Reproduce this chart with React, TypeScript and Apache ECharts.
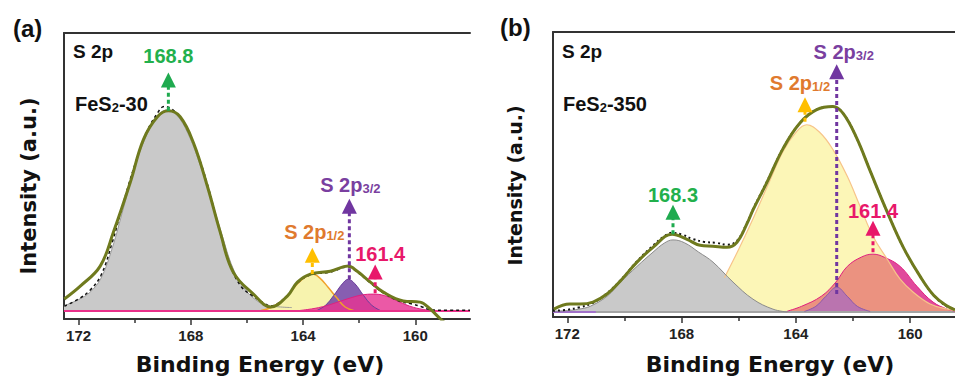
import React, { useEffect, useRef } from 'react';
import * as echarts from 'echarts';

// ---------- axis ticks ----------
const majorTicks = [160, 164, 168, 172];
const minorTicks = [162, 166, 170];

// ---------- Panel (a): FeS2-30 ----------
const envelopeA: number[][] = [
  [172.51, 4.2], [171.94, 8.7], [171.23, 15.7], [170.76, 27.5], [170.16, 44.9], [169.69, 59.9],
  [169.19, 67.9], [168.8, 70.0], [168.38, 67.9], [167.91, 58.9], [167.41, 43.6], [166.95, 27.5],
  [166.49, 13.6], [165.77, 5.9], [165.15, 1.4], [164.56, 5.2], [164.2, 10.1], [163.74, 12.9],
  [163.03, 13.9], [162.39, 15.7], [162.07, 13.9], [161.6, 10.1], [161.14, 6.6], [160.43, 3.5],
  [159.83, 3.1], [159.47, 0.7], [159.1, -2.8], [158.7, -6],
];
const rawA: number[][] = [
  [172.51, 1.7], [172.0, 4.2], [171.6, 7.2], [171.2, 12.5], [170.8, 24], [170.4, 38], [170.0, 51],
  [169.6, 62], [169.2, 69], [168.95, 71.5], [168.6, 70], [168.2, 65], [167.8, 56], [167.4, 44],
  [167.0, 29], [166.6, 16], [166.2, 8.5], [165.8, 5.3], [165.4, 2.8], [165.15, 1.8], [164.6, 5],
  [164.2, 9.8], [163.74, 12.6], [163.03, 13.6], [162.39, 15.4], [162.07, 13.6], [161.6, 9.8],
  [161.14, 6.3], [160.6, 3.6], [160.1, 2.4], [159.8, 1.6], [159.5, 0.5], [159.2, 0.3], [158.05, 0.3],
];
const grayA: number[][] = [
  [172.52, 1.8], [172.0, 4], [171.6, 6.5], [171.2, 11.5], [170.8, 22], [170.4, 36], [170.0, 50],
  [169.6, 61], [169.2, 68], [168.85, 70.3], [168.5, 68.5], [168.1, 62], [167.7, 52], [167.3, 40],
  [166.9, 27], [166.5, 15], [166.1, 8], [165.7, 4], [165.3, 2], [164.8, 1.4], [164.4, 1.2],
];
const yellowA: number[][] = [
  [165.5, 0.2], [165.1, 1.4], [164.6, 4.8], [164.2, 9.5], [163.9, 12], [163.67, 12.9], [163.4, 11.5],
  [163.1, 8.2], [162.8, 4.6], [162.5, 1.4], [162.2, 0.2],
];
const purpleA: number[][] = [
  [163.5, 0.2], [163.2, 2], [162.9, 5.5], [162.6, 9.5], [162.39, 11.1], [162.15, 9.5], [161.85, 5.5],
  [161.55, 2], [161.25, 0.2],
];
const pinkA: number[][] = [
  [164.3, 0], [163.85, 0.5], [163.3, 1.5], [162.8, 3], [162.3, 4.6], [161.9, 5.6], [161.5, 5.9],
  [161.1, 5.4], [160.7, 3.8], [160.2, 1.7], [159.7, 0.5], [159.2, 0],
];
const baselineA: number[][] = [[172.52, 0], [158.05, 0]];
// peak markers: energy, arrow foot, arrow head
const peakEnergyA = [168.8, 163.67, 162.35, 161.43];
const peakFootA = [70.0, 12.9, 11.1, 6.2];
const peakHeadA = [80.8, 19.5, 36.6, 13.6];

// ---------- Panel (b): FeS2-350 ----------
const envelopeB: number[][] = [
  [172.47, 1.0], [171.91, 2.8], [171.56, 2.8], [171.1, 3.5], [170.61, 6.3], [170.15, 10.8],
  [169.56, 17.5], [169.0, 22.7], [168.33, 27.3], [167.81, 25.5], [167.35, 23.4], [166.9, 23.1],
  [166.41, 22.7], [166.06, 24.5], [165.71, 31], [165.49, 36], [165.02, 45.3], [164.44, 57.5],
  [163.85, 66.4], [163.27, 71], [162.7, 72.1], [162.34, 69.6], [161.87, 61], [161.4, 49.5],
  [160.82, 35.5], [160.23, 22.5], [159.65, 12.5], [159.17, 5.8], [158.72, 2.2], [158.43, 0.8],
];
const rawB: number[][] = [
  [172.5, 0.4], [172.0, 0.8], [171.6, 1.6], [171.1, 3.2], [170.61, 6.6], [170.15, 11], [169.56, 17.8],
  [169.0, 23.3], [168.6, 26.6], [168.33, 27.8], [168.0, 27.2], [167.6, 25.6], [167.2, 24.6],
  [166.8, 24.3], [166.41, 23.6], [166.06, 25], [165.71, 31.3], [165.49, 36.3], [165.02, 45.6],
  [164.44, 57.6], [163.85, 66.4], [163.27, 71], [162.7, 72], [162.34, 69.6], [161.87, 61],
  [161.4, 49.5], [160.82, 35.5], [160.23, 22.5], [159.65, 12.5], [159.17, 5.8], [158.72, 2], [158.43, 1.2],
];
const grayB: number[][] = [
  [172.5, 0.3], [172.0, 0.5], [171.6, 1], [171.2, 2], [170.6, 5.6], [170.15, 10.3], [169.56, 16],
  [169.0, 21], [168.6, 24.2], [168.3, 25.3], [167.9, 24.3], [167.4, 21], [166.9, 17.5], [166.2, 10.5],
  [165.5, 4.5], [164.8, 1], [164.3, 0],
];
const yellowB: number[][] = [
  [166.5, 12], [166.4, 14], [166.0, 22], [165.6, 30.5], [165.0, 44], [164.44, 56.5], [163.96, 63.5],
  [163.62, 65.7], [163.16, 63], [162.7, 57], [162.2, 47.6], [161.75, 37], [161.3, 26.6], [160.8, 18.5],
  [160.35, 11.5], [159.9, 7], [159.3, 2.8], [158.7, 1], [158.43, 0.5],
];
const pinkB: number[][] = [
  [164.3, 0.3], [163.8, 2], [163.1, 5.6], [162.6, 10.5], [162.2, 16], [161.7, 19.3], [161.3, 20.3],
  [160.9, 19.2], [160.35, 16], [159.76, 9], [159.2, 3.5], [158.7, 1], [158.43, 0.3],
];
const purpleB: number[][] = [
  [163.7, 0.2], [163.3, 2], [162.95, 5.5], [162.57, 8.7], [162.2, 5.5], [161.85, 2], [161.4, 0.2],
];
const baselineB: number[][] = [[172.5, 0], [158.43, 0]];
const baselineSegB: number[][] = [[172.5, 0], [171.0, 0]];
const peakEnergyB = [168.3, 163.68, 162.57, 161.3];
const peakFootB = [27.3, 66.8, 6.3, 21.0];
const peakHeadB = [35.0, 72.7, 84.3, 29.4];

// peak label texts (same order: oxidised S, S 2p1/2, S 2p3/2, 161.4)
const peakLabelsA = ['{m|168.8}', '{m|S 2p}{s|1/2}', '{m|S 2p}{s|3/2}', '{m|161.4}'];
const peakLabelsB = ['{m|168.3}', '{m|S 2p}{s|1/2}', '{m|S 2p}{s|3/2}', '{m|161.4}'];

const SANS = "'Liberation Sans', Arial, sans-serif";
const TITLE = "'DejaVu Sans', sans-serif";
const OLIVE = '#6f7a1e';
const arrowColors = ['#1faa4f', '#ffbf00', '#7036a0', '#e8186a'];
const textColors = ['#22b04c', '#e07a2e', '#7a3fa0', '#e8186a'];

function xAxes(gridIndex: number, min: number, max: number, nameGap: number, padding: number[]) {
  const common = { type: 'value', gridIndex, min, max, inverse: true, splitLine: { show: false } };
  return [
    {
      ...common, position: 'bottom',
      name: 'Binding Energy (eV)', nameLocation: 'middle', nameGap,
      nameTextStyle: { fontFamily: TITLE, fontWeight: 'bold', fontSize: 22, color: '#111', padding },
      axisLine: { show: true, onZero: false, lineStyle: { color: '#333', width: 2 } },
      axisTick: { show: true, inside: false, length: 6, customValues: majorTicks, lineStyle: { color: '#333', width: 1.5 } },
      axisLabel: { show: true, customValues: majorTicks, margin: 9, fontFamily: SANS, fontWeight: 'bold', fontSize: 15, color: '#222' },
    },
    {
      ...common, position: 'bottom',
      axisLine: { show: false, onZero: false },
      axisTick: { show: true, inside: false, length: 4, customValues: minorTicks, lineStyle: { color: '#333', width: 1.5 } },
      axisLabel: { show: false },
    },
    {
      ...common, position: 'top',
      axisLine: { show: true, onZero: false, lineStyle: { color: '#333', width: 2 } },
      axisTick: { show: false }, axisLabel: { show: false },
    },
  ];
}

function yAxis(gridIndex: number, min: number, max: number, nameGap: number, fontSize: number, padding: number[]) {
  return {
    type: 'value', gridIndex, min, max,
    name: 'Intensity (a.u.)', nameLocation: 'middle', nameGap,
    nameTextStyle: { fontFamily: TITLE, fontWeight: 'bold', fontSize, color: '#111', padding },
    axisLine: { show: true, onZero: false, lineStyle: { color: '#333', width: 2 } },
    axisTick: { show: false }, axisLabel: { show: false }, splitLine: { show: false },
  };
}

function area(xi: number, yi: number, data: number[][], fill: string, edge: string, edgeW = 1) {
  return {
    type: 'line', xAxisIndex: xi, yAxisIndex: yi, data, smooth: 0.4, symbol: 'none', silent: true,
    lineStyle: { color: edge, width: edgeW }, areaStyle: { color: fill, opacity: 1 },
  };
}

function curve(xi: number, yi: number, data: number[][], color: string, width: number, type: any = 'solid') {
  return {
    type: 'line', xAxisIndex: xi, yAxisIndex: yi, data, smooth: 0.4, symbol: 'none', silent: true,
    lineStyle: { color, width, type },
  };
}

function arrow(xi: number, yi: number, e: number, foot: number, head: number, i: number,
  text: string, dist: number, dx: number) {
  const col = arrowColors[i];
  const tc = textColors[i];
  return {
    type: 'line', xAxisIndex: xi, yAxisIndex: yi, silent: true, z: 10,
    symbol: 'triangle', symbolSize: [15, 15], showSymbol: true, showAllSymbol: true,
    lineStyle: { color: col, width: 3, type: [4, 3] },
    itemStyle: { color: col },
    data: [
      { value: [e, foot], symbol: 'none' },
      {
        value: [e, head], symbol: 'triangle',
        label: {
          show: true, position: 'top', distance: dist, offset: [dx, 0], formatter: text,
          rich: {
            m: { fontFamily: SANS, fontWeight: 'bold', fontSize: 20, color: tc },
            s: { fontFamily: SANS, fontWeight: 'bold', fontSize: 13, color: tc, verticalAlign: 'bottom' },
          },
        },
      },
    ],
  };
}

function txt(x: number, y: number, text: string, size: number) {
  return {
    type: 'text', x, y, silent: true,
    style: {
      text, fill: '#111', verticalAlign: 'middle',
      rich: {
        m: { fontFamily: SANS, fontWeight: 'bold', fontSize: size, fill: '#111' },
        s: { fontFamily: SANS, fontWeight: 'bold', fontSize: 13, fill: '#111', verticalAlign: 'bottom' },
      },
    },
  };
}

export default function App() {
  const ref = useRef<HTMLDivElement>(null);
  useEffect(() => {
    if (!ref.current) return;
    const chart = echarts.init(ref.current, undefined, { renderer: 'svg' });
    const distA = [6, 6, 4, 1];
    const dxA = [0, 2, 1, 5];
    const distB = [0, 4, 2, 0];
    const dxB = [0, -5, 7, 0];
    const series: any[] = [
      // panel (a)
      area(0, 0, grayA, '#c9c9c9', '#9a9a9a'),
      area(0, 0, yellowA, '#f7f3ae', '#f0a12a', 1.5),
      area(0, 0, purpleA, 'rgba(118,72,166,0.88)', '#6a3d9a'),
      area(0, 0, pinkA, 'rgba(230,52,146,0.82)', '#e0207f'),
      curve(0, 0, baselineA, '#e8308a', 2),
      curve(0, 0, rawA, '#111', 1.5, [3, 3]),
      curve(0, 0, envelopeA, OLIVE, 3),
      // panel (b)
      curve(3, 1, baselineB, '#a3a3a3', 2),
      curve(3, 1, baselineSegB, '#a070c8', 2),
      area(3, 1, pinkB, '#e04a9c', '#e0207f'),
      area(3, 1, yellowB, 'rgba(248,236,96,0.45)', '#f7c48a', 1.2),
      area(3, 1, grayB, '#c9c9c9', '#8a8a8a'),
      area(3, 1, purpleB, 'rgba(160,100,200,0.65)', '#8a5aaa'),
      curve(3, 1, rawB, '#111', 2, [2, 3]),
      curve(3, 1, envelopeB, OLIVE, 3),
    ];
    peakEnergyA.forEach((e, i) => series.push(arrow(0, 0, e, peakFootA[i], peakHeadA[i], i, peakLabelsA[i], distA[i], dxA[i])));
    peakEnergyB.forEach((e, i) => series.push(arrow(3, 1, e, peakFootB[i], peakHeadB[i], i, peakLabelsB[i], distB[i], dxB[i])));

    chart.setOption({
      animation: false,
      grid: [
        { left: 64, top: 33, width: 406, height: 287 },
        { left: 553, top: 32, width: 402, height: 286 },
      ],
      xAxis: [
        ...xAxes(0, 158.05, 172.52, 34, [0, 14, 0, 0]),
        ...xAxes(1, 158.43, 172.5, 36, [0, 0, 0, 32]),
      ],
      yAxis: [
        yAxis(0, -2.8, 97.2, 25, 21, [0, 20, 0, 0]),
        yAxis(1, -1.75, 98.25, 29, 19, [0, 22, 0, 0]),
      ],
      graphic: [
        { type: 'text', x: 13, y: 28, silent: true, style: { text: '(a)', fontFamily: SANS, fontWeight: 'bold', fontSize: 24, fill: '#111', verticalAlign: 'middle' } },
        { type: 'text', x: 500, y: 27, silent: true, style: { text: '(b)', fontFamily: SANS, fontWeight: 'bold', fontSize: 24, fill: '#111', verticalAlign: 'middle' } },
        txt(73, 51, '{m|S 2p}', 19),
        txt(75, 104, '{m|FeS}{s|2}{m|-30}', 20),
        txt(562, 51, '{m|S 2p}', 19),
        txt(563, 104, '{m|FeS}{s|2}{m|-350}', 20),
      ],
      series,
    });
    return () => chart.dispose();
  }, []);
  return <div ref={ref} style={{ position: 'absolute', left: 0, top: 0, width: 955, height: 380 }} />;
}
